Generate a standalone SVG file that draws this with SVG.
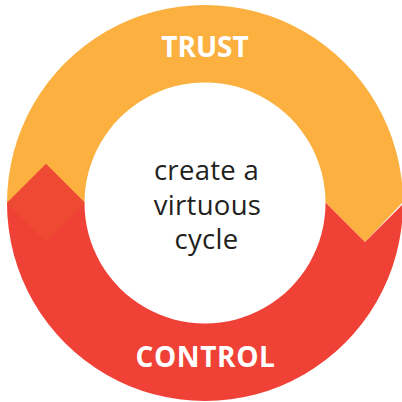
<svg xmlns="http://www.w3.org/2000/svg" width="402" height="402" viewBox="0 0 402 402">
  <style>
    .label { font-family: "Open Sans", "Liberation Sans", sans-serif; font-weight: 700; fill: #ffffff; text-anchor: middle; }
    .center { font-family: "Open Sans", "Liberation Sans", sans-serif; font-size: 27.5px; letter-spacing: 0.3px; fill: #231f20; text-anchor: middle; }
  </style>
  <defs>
    <clipPath id="ring">
      <path d="M205,5 A198,198 0 1,1 204.99,5 Z M205,82.5 A120.5,120.5 0 1,0 205.01,82.5 Z" clip-rule="evenodd" fill-rule="evenodd"/>
    </clipPath>
  </defs>
  <g clip-path="url(#ring)">
    <g id="trust">
      <path d="M0,0 H402 V203 L365,242 L326,203 H0 Z" fill="#fbb040"/>
    </g>
    <g id="control">
      <path d="M0,203 L7,203 L46,164 L85,203 L326,203 L365,242 L404,203 V402 H0 Z" fill="#ef4136"/>
      <path d="M46,164 L85,203 L46,242 L7,203 Z" fill="#ee4a33"/>
    </g>
  </g>
  <text class="label" x="205" y="57" font-size="28">TRUST</text>
  <text class="label" x="205.5" y="367" font-size="28" letter-spacing="0.6">CONTROL</text>
  <g id="center-text">
    <text class="center" x="206.5" y="180">create a</text>
    <text class="center" x="207.5" y="214.5">virtuous</text>
    <text class="center" x="206.5" y="249">cycle</text>
  </g>
</svg>
